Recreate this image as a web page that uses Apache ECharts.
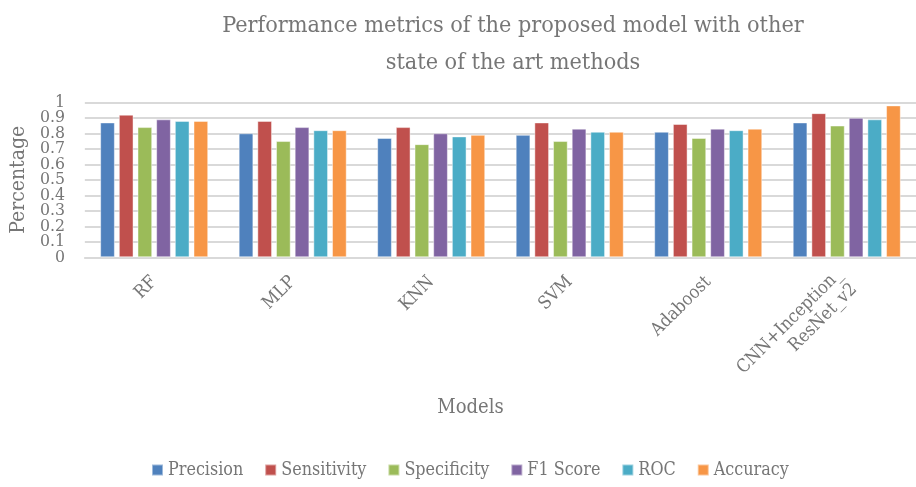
<!DOCTYPE html>
<html>
<head>
<meta charset="utf-8">
<script src="https://cdn.jsdelivr.net/npm/echarts@6/dist/echarts.min.js"></script>
<style>
  html, body { margin: 0; padding: 0; background: #fff; }
  #chart { width: 916px; height: 487px; }
</style>
</head>
<body>
<div id="chart"></div>
<script>
// Classification models compared on six metrics
const models = ['RF', 'MLP', 'KNN', 'SVM', 'Adaboost', 'CNN+Inception_\nResNet_v2'];
const precision   = [0.87, 0.80, 0.77, 0.79, 0.81, 0.87];
const sensitivity = [0.92, 0.88, 0.84, 0.87, 0.86, 0.93];
const specificity = [0.84, 0.75, 0.73, 0.75, 0.77, 0.85];
const f1Score     = [0.89, 0.84, 0.80, 0.83, 0.83, 0.90];
const roc         = [0.88, 0.82, 0.78, 0.81, 0.82, 0.89];
const accuracy    = [0.88, 0.82, 0.79, 0.81, 0.83, 0.98];
const yTicks = [0, 0.1, 0.2, 0.3, 0.4, 0.5, 0.6, 0.7, 0.8, 0.9, 1];

const metrics = [
  { name: 'Precision',   data: precision,   color: '#4F81BD' },
  { name: 'Sensitivity', data: sensitivity, color: '#C0504D' },
  { name: 'Specificity', data: specificity, color: '#9BBB59' },
  { name: 'F1 Score',    data: f1Score,     color: '#8064A2' },
  { name: 'ROC',         data: roc,         color: '#4BACC6' },
  { name: 'Accuracy',    data: accuracy,    color: '#F79646' }
];

const FONT = '"DejaVu Serif Condensed", "Liberation Serif", serif';
const TEXT = '#767676';
const GRID_LINE = { color: '#d9d9d9', width: 2 };

// The tick labels sit closer together than their text height, so the even and
// odd ticks are labelled by two overlaid value axes sharing the same scale.
function tickLabel(parity) {
  return v => {
    const i = yTicks.findIndex(k => Math.abs(k - v) < 1e-9);
    return i >= 0 && i % 2 === parity ? String(yTicks[i]) : '';
  };
}

const yLabelStyle = {
  margin: 20,
  fontFamily: FONT,
  fontSize: 17.5,
  color: TEXT
};

// Horizontal gridlines at every tick value, drawn behind the bars
const gridLines = {
  silent: true,
  symbol: 'none',
  z: 1,
  label: { show: false },
  lineStyle: { color: GRID_LINE.color, width: GRID_LINE.width, type: 'solid' },
  emphasis: { disabled: true },
  data: yTicks.map(v => ({ yAxis: v }))
};

const chart = echarts.init(document.getElementById('chart'), null, { renderer: 'canvas' });

chart.setOption({
  animation: false,
  backgroundColor: '#ffffff',
  textStyle: { fontFamily: FONT, color: TEXT },
  title: {
    text: 'Performance metrics of the proposed model with other\nstate of the art methods',
    left: 508,
    top: 2,
    textAlign: 'center',
    textStyle: { fontFamily: FONT, fontWeight: 'normal', fontSize: 23.2, color: TEXT, lineHeight: 37 }
  },
  legend: {
    bottom: 3,
    left: 146,
    itemWidth: 11,
    itemHeight: 11,
    itemGap: 21,
    icon: 'rect',
    textStyle: { fontFamily: FONT, fontSize: 17.8, color: TEXT },
    data: metrics.map(m => m.name)
  },
  grid: {
    left: 82.7,
    right: -10.3,
    top: 102.3,
    bottom: 229.7,
    containLabel: false
  },
  xAxis: {
    type: 'category',
    data: models,
    name: 'Models',
    nameLocation: 'middle',
    nameGap: 140,
    nameTextStyle: { fontFamily: FONT, fontSize: 20, color: TEXT, padding: [0, 60, 0, 0] },
    axisLine: { lineStyle: GRID_LINE },
    axisTick: { show: false },
    axisLabel: {
      interval: 0,
      rotate: 45,
      margin: 22,
      fontFamily: FONT,
      fontSize: 18,
      color: TEXT,
      lineHeight: 21
    }
  },
  yAxis: [
    {
      type: 'value',
      position: 'left',
      min: 0,
      max: 1,
      interval: 0.2,
      name: 'Percentage',
      nameLocation: 'middle',
      nameGap: 50,
      nameTextStyle: { fontFamily: FONT, fontSize: 21, color: TEXT },
      axisLine: { show: false },
      axisTick: { show: false },
      splitLine: { show: false },
      axisLabel: Object.assign({ formatter: tickLabel(0) }, yLabelStyle)
    },
    {
      type: 'value',
      position: 'left',
      offset: 0,
      min: 0,
      max: 1,
      interval: 0.1,
      axisLine: { show: false },
      axisTick: { show: false },
      splitLine: { show: true, lineStyle: GRID_LINE },
      axisLabel: Object.assign({ formatter: tickLabel(1) }, yLabelStyle)
    }
  ],
  series: metrics.map((m, i) => ({
    name: m.name,
    type: 'bar',
    yAxisIndex: 0,
    data: m.data,
    barWidth: 14.7,
    barGap: '27%',
    z: 3,
    itemStyle: { color: m.color, borderColor: 'rgba(255,255,255,0.45)', borderWidth: 1 },
    markLine: i === 0 ? gridLines : undefined
  }))
});
</script>
</body>
</html>
